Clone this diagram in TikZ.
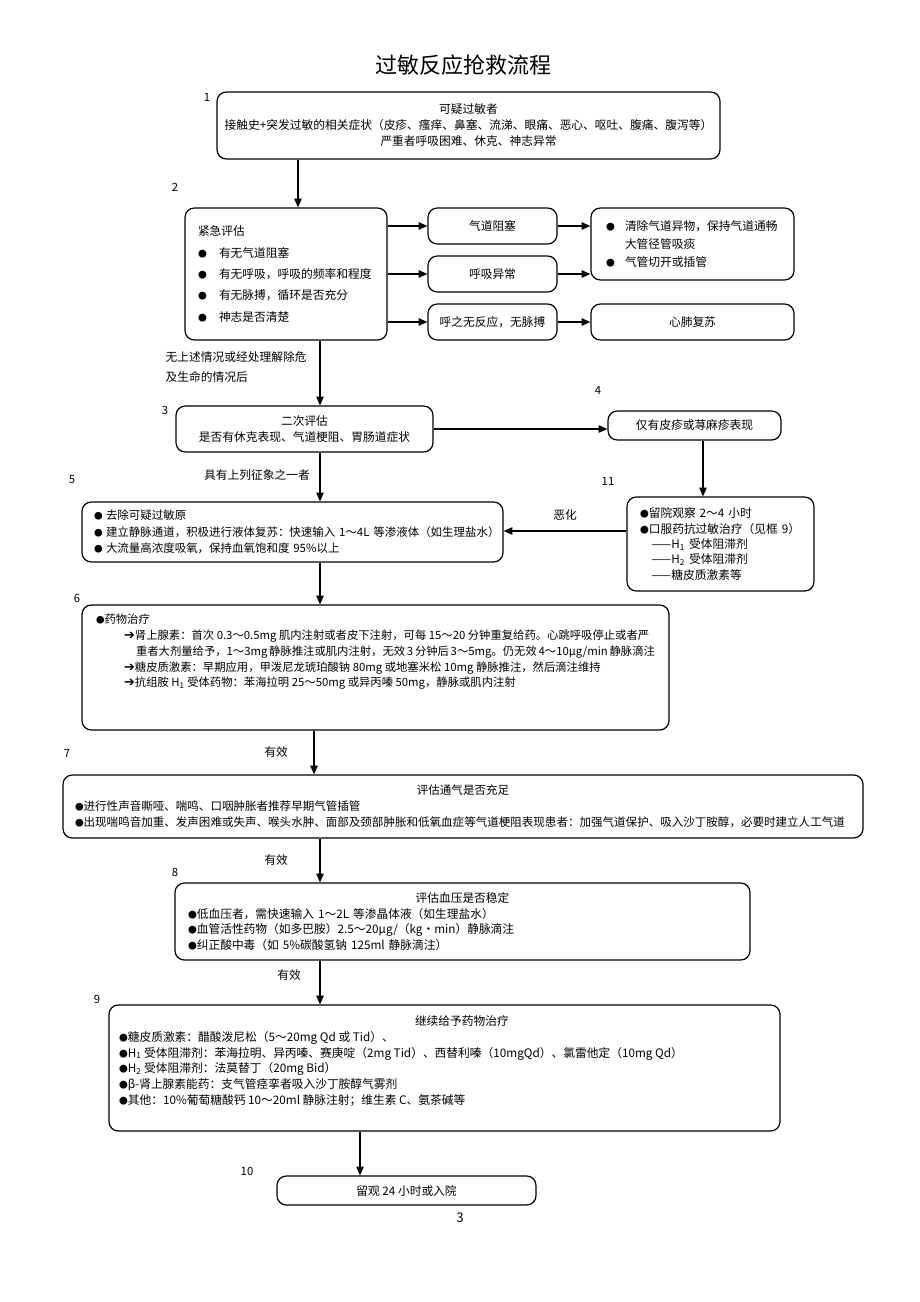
\documentclass[tikz,border=0pt]{standalone}
\usepackage{fontspec}
\setmainfont{Noto Sans CJK SC}
\newfontfamily\symf{DejaVu Sans}
\usetikzlibrary{arrows.meta}
\setlength\parindent{0pt}
\newcommand\bul{\scalebox{0.75}{●}}
\newcommand\rarr{{\symf\scalebox{1.15}{➔}}}

\begin{document}
\begin{tikzpicture}[x=0.75pt,y=-0.75pt]

\tikzset{flow/.style = {draw, rounded corners=7pt, line width=0.9pt, font=\fontsize{8.8}{12}\selectfont}}
\tikzset{link/.style = {-{Triangle[length=6.5pt,width=5.5pt]}, line width=0.9pt}}
\tikzset{numlbl/.style = {font=\fontsize{8.5}{10}\selectfont}}
\useasboundingbox (0,0) rectangle (920,1302);

\node[font=\fontsize{16.5}{20}\selectfont] (title) at (463,65) {过敏反应抢救流程};

% boxes
\node[flow, minimum width=377.25pt, minimum height=50.25pt, align=center] (kygm) at (468.5,125.5)
  {可疑过敏者\\接触史+突发过敏的相关症状（皮疹、瘙痒、鼻塞、流涕、眼痛、恶心、呕吐、腹痛、腹泻等）\\严重者呼吸困难、休克、神志异常};
\node[flow, minimum height=99pt, text width=132pt, inner xsep=9.75pt, align=left, font=\fontsize{8.8}{16}\selectfont] (jjpg) at (286,274)
  {紧急评估\\
   \makebox[15.75pt][l]{\bul}有无气道阻塞\\
   \makebox[15.75pt][l]{\bul}有无呼吸，呼吸的频率和程度\\
   \makebox[15.75pt][l]{\bul}有无脉搏，循环是否充分\\
   \makebox[15.75pt][l]{\bul}神志是否清楚};
\node[flow, minimum width=96.75pt, minimum height=27pt] (qdzs) at (492.5,226) {气道阻塞};
\node[flow, minimum width=96.75pt, minimum height=27pt] (hxyc) at (492.5,274) {呼吸异常};
\node[flow, minimum width=96.75pt, minimum height=27pt] (wfy) at (492.5,322) {呼之无反应，无脉搏};
\node[flow, minimum height=54pt, text width=129.75pt, inner xsep=11.25pt, align=left, font=\fontsize{8.8}{13.5}\selectfont] (qcyw) at (692.5,244)
  {\makebox[14.25pt][l]{\bul}清除气道异物，保持气道通畅\\
   \makebox[14.25pt][l]{}大管径管吸痰\\
   \makebox[14.25pt][l]{\bul}气管切开或插管};
\node[flow, minimum width=152.25pt, minimum height=27pt] (xffs) at (692.5,322) {心肺复苏};
\node[anchor=west, align=left, font=\fontsize{8.8}{15}\selectfont] (wsqk) at (161,367) {无上述情况或经处理解除危\\及生命的情况后};

\node[flow, minimum width=192.75pt, minimum height=34.5pt, align=center] (ecpg) at (304.5,429)
  {二次评估\\是否有休克表现、气道梗阻、胃肠道症状};
\node[flow, minimum width=129.75pt, minimum height=21.75pt] (pzbx) at (694.5,425.5) {仅有皮疹或荨麻疹表现};
\node[flow, minimum height=70.5pt, text width=120.75pt, inner xsep=9.75pt, align=left, font=\fontsize{8.8}{11.6}\selectfont] (lygc) at (720.5,544)
  {\bul 留院观察~2～4~小时\\
   \bul 口服药抗过敏治疗（见框~9）\\
   \hspace*{8.8pt}——H\textsubscript{1}~受体阻滞剂\\
   \hspace*{8.8pt}——H\textsubscript{2}~受体阻滞剂\\
   \hspace*{8.8pt}——糖皮质激素等};
\node[font=\fontsize{8.8}{12}\selectfont] (jyzx) at (257,475) {具有上列征象之一者};

\node[flow, minimum height=45pt, text width=297.75pt, inner xsep=9pt, align=left, font=\fontsize{8.6}{12.4}\selectfont] (jczl) at (292.5,532)
  {\makebox[9pt][l]{\bul}去除可疑过敏原\\
   \makebox[9pt][l]{\bul}建立静脉通道，积极进行液体复苏：快速输入~1～4L~等渗液体（如生理盐水）\\
   \makebox[9pt][l]{\bul}大流量高浓度吸氧，保持血氧饱和度~95\%以上};
\node[flow, inner xsep=10.5pt, inner ysep=0pt, font=\fontsize{8.5}{11.8}\selectfont] (ywzl) at (375.5,667.5)
  {\parbox[c][93.75pt][t]{419.25pt}{\vspace*{7pt}%
   \bul 药物治疗\\
   \hspace*{21pt}\rarr 肾上腺素：首次~0.3～0.5mg~肌内注射或者皮下注射，可每~15～20~分钟重复给药。心跳呼吸停止或者严\\
   \hspace*{30pt}重者大剂量给予，1～3mg~静脉推注或肌内注射，无效~3~分钟后~3～5mg。仍无效~4～10μg/min~静脉滴注\\
   \hspace*{21pt}\rarr 糖皮质激素：早期应用，甲泼尼龙琥珀酸钠~80mg~或地塞米松~10mg~静脉推注，然后滴注维持\\
   \hspace*{21pt}\rarr 抗组胺~H\textsubscript{1}~受体药物：苯海拉明~25～50mg~或异丙嗪~50mg，静脉或肌内注射}};
\node[font=\fontsize{8.8}{12}\selectfont] (yx1) at (276,752) {有效};
\node[flow, minimum height=47.25pt, text width=582pt, inner xsep=9pt, align=left, font=\fontsize{8.65}{12}\selectfont] (tqpg) at (463,806.5)
  {\makebox[\hsize]{评估通气是否充足}\\
   \bul 进行性声音嘶哑、喘鸣、口咽肿胀者推荐早期气管插管\\
   \bul 出现喘鸣音加重、发声困难或失声、喉头水肿、面部及颈部肿胀和低氧血症等气道梗阻表现患者：加强气道保护、吸入沙丁胺醇，必要时建立人工气道};
\node[font=\fontsize{8.8}{12}\selectfont] (yx2) at (276,860) {有效};
\node[flow, minimum height=57.75pt, text width=411.75pt, inner xsep=9.75pt, align=left, font=\fontsize{8.8}{11.8}\selectfont] (xypg) at (462.5,921.5)
  {\makebox[\hsize]{评估血压是否稳定}\\
   \bul 低血压者，需快速输入~1～2L~等渗晶体液（如生理盐水）\\
   \bul 血管活性药物（如多巴胺）2.5～20μg/（kg·min）静脉滴注\\
   \bul 纠正酸中毒（如~5\%碳酸氢钠~125ml~静脉滴注）};
\node[font=\fontsize{8.8}{12}\selectfont] (yx3) at (289,975) {有效};
\node[flow, inner xsep=7.5pt, inner ysep=0pt, font=\fontsize{8.8}{11.8}\selectfont] (jxyw) at (444.5,1068)
  {\parbox[c][94.5pt][t]{488.25pt}{\vspace*{8pt}%
   \hspace*{222pt}继续给予药物治疗\\
   \bul 糖皮质激素：醋酸泼尼松（5～20mg~Qd~或~Tid）、\\
   \bul H\textsubscript{1}~受体阻滞剂：苯海拉明、异丙嗪、赛庚啶（2mg~Tid）、西替利嗪（10mgQd）、氯雷他定（10mg~Qd）\\
   \bul H\textsubscript{2}~受体阻滞剂：法莫替丁（20mg~Bid）\\
   \bul β-肾上腺素能药：支气管痉挛者吸入沙丁胺醇气雾剂\\
   \bul 其他：10\%葡萄糖酸钙~10～20ml~静脉注射；维生素~C、氨茶碱等}};
\node[flow, minimum width=194.25pt, minimum height=21.75pt] (lgry) at (406.5,1190.5) {留观 24 小时或入院};
\node[font=\fontsize{10}{12}\selectfont] (page) at (460,1218) {3};

% box numbers
\node[numlbl] (n1) at (207,97) {1};
\node[numlbl] (n2) at (175,187) {2};
\node[numlbl] (n3) at (165,410) {3};
\node[numlbl] (n4) at (598,390) {4};
\node[numlbl] (n5) at (72,480) {5};
\node[numlbl] (n6) at (77,598) {6};
\node[numlbl] (n7) at (67,753) {7};
\node[numlbl] (n8) at (175,872) {8};
\node[numlbl] (n9) at (97,999) {9};
\node[numlbl] (n10) at (247,1171) {10};
\node[numlbl] (n11) at (608,481) {11};

%arrows
\coordinate (t1) at (298,0);
\coordinate (t2) at (320,0);
\coordinate (t3) at (314,0);
\coordinate (t4) at (360,0);
\coordinate (t5) at (703,0);
\coordinate (r1) at (0,531);
\draw[link] (t1 |- kygm.south) -- (t1 |- jjpg.north);
\draw[link] (jjpg.east |- qdzs.west) -- (qdzs.west);
\draw[link] (jjpg.east |- hxyc.west) -- (hxyc.west);
\draw[link] (jjpg.east |- wfy.west) -- (wfy.west);
\draw[link] (qdzs.east) -- (qdzs.east -| qcyw.west);
\draw[link] (hxyc.east) -- (hxyc.east -| qcyw.west);
\draw[link] (wfy) -- (xffs);
\draw[link] (t2 |- jjpg.south) -- (t2 |- ecpg.north);
\draw[link] (ecpg.east) -- (ecpg.east -| pzbx.west);
\draw[link] (t5 |- pzbx.south) -- (t5 |- lygc.north);
\draw[link] (t2 |- ecpg.south) -- (t2 |- jczl.north);
\draw[link] (r1 -| lygc.west) -- node[above=4pt, font=\fontsize{8.8}{12}\selectfont] (eh) {恶化} (r1 -| jczl.east);
\draw[link] (t2 |- jczl.south) -- (t2 |- ywzl.north);
\draw[link] (t3 |- ywzl.south) -- (t3 |- tqpg.north);
\draw[link] (t2 |- tqpg.south) -- (t2 |- xypg.north);
\draw[link] (t2 |- xypg.south) -- (t2 |- jxyw.north);
\draw[link] (t4 |- jxyw.south) -- (t4 |- lgry.north);

\end{tikzpicture}
\end{document}
